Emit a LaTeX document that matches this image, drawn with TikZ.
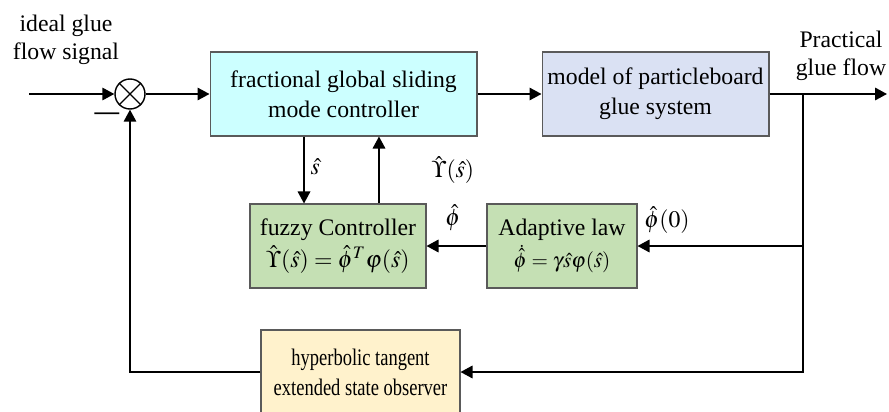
\documentclass[tikz,border=0pt]{standalone}
\usepackage{amsmath}
\usepackage{graphicx}
\usepackage{mathptmx}
\usepackage{fontspec}
\setmainfont{Liberation Serif}
\usepackage{tikz}
\usetikzlibrary{arrows.meta, positioning, calc}
\definecolor{FGSMCCyan}{RGB}{204,255,255}
\definecolor{PlantLavender}{RGB}{218,225,243}
\definecolor{FuzzyGreen}{RGB}{197,224,180}
\definecolor{ESOYellow}{RGB}{255,242,204}
\definecolor{BoxEdge}{RGB}{90,90,90}
\newcommand{\narrowtext}[1]{\scalebox{0.78}[1]{#1}}

\begin{document}
\begin{tikzpicture}[
  x=0.02cm, y=-0.02cm,
  block/.style={draw=BoxEdge, line width=0.6pt, minimum height=1.68cm, align=center,
                inner sep=2pt, font=\fontsize{13.5}{17}\selectfont},
  sumnode/.style={draw, circle, minimum size=6mm, inner sep=0pt, line width=0.8pt},
  lbl/.style={font=\fontsize{13.5}{16}\selectfont, align=center},
  arr/.style={-{Triangle[length=2.4mm, width=2.5mm]}, line width=1pt},
]
\useasboundingbox (0,0) rectangle (889,412);
%% Summing junction
\node[sumnode] (sum) at (130,94) {};
\draw[line width=0.8pt] (sum.45) -- (sum.225) (sum.135) -- (sum.315);
\coordinate (in) at (29,94);
\node[lbl] (ref) at (66,40) {ideal glue\\flow signal};
\node[lbl, font=\fontsize{14}{16}\selectfont\bfseries] (minus) at (107,116) {—};
%% Forward path
\node[block, fill=FGSMCCyan, minimum width=5.34cm] (fgsmc) at (343.5,94)
  {fractional global sliding\\mode controller};
\node[block, fill=PlantLavender, minimum width=4.54cm] (plant) at (655.5,94)
  {model of particleboard\\glue system};
\coordinate (br) at (803,94);
\coordinate (out) at (887,94);
\node[lbl] (outlbl) at (841,56) {Practical\\glue flow};
%% Fuzzy adaptive part
\node[block, fill=FuzzyGreen, minimum width=3.52cm] (fuzzy) at (338,246)
  {fuzzy Controller\\[1pt] $\hat{\Upsilon}(\hat{s})=\hat{\phi}^{T}\varphi(\hat{s})$};
\node[block, fill=FuzzyGreen, minimum width=3.0cm] (adapt) at (562,246)
  {Adaptive law\\[1pt] {\fontsize{12}{14}\selectfont $\dot{\hat{\phi}}=\gamma\hat{s}\varphi(\hat{s})$}};
%% Observer
\node[block, fill=ESOYellow, minimum width=3.98cm] (eso) at (360.5,372)
  {\narrowtext{hyperbolic tangent}\\\narrowtext{extended state observer}};
%% Arrows
\draw[arr] (in) -- (sum.west);
\draw[arr] (sum.east) -- (fgsmc.west);
\draw[arr] (fgsmc.east) -- (plant.west);
\draw[arr] (plant.east) -- (out);
\draw[arr] (br) |- (eso.east);
\draw[arr] (br |- adapt.east) -- (adapt.east);
\draw[arr] (adapt.west) -- (fuzzy.east);
\draw[arr] ([xshift=-0.79cm]fgsmc.south) -- ([xshift=-0.79cm]fgsmc.south |- fuzzy.north)
  node[pos=0.45, right, lbl] (slbl) {$\hat{s}$};
\draw[arr] ([xshift=0.71cm]fgsmc.south |- fuzzy.north) -- ([xshift=0.71cm]fgsmc.south);
\draw[arr] (eso.west) -| (sum.south);
%% Signal labels
\node[lbl] (ulbl) at (453,170) {$\hat{\Upsilon}(\hat{s})$};
\node[lbl] (philbl) at (453,218) {$\hat{\phi}$};
\node[lbl] (phi0lbl) at (667,220) {$\hat{\phi}(0)$};
\end{tikzpicture}
\end{document}
